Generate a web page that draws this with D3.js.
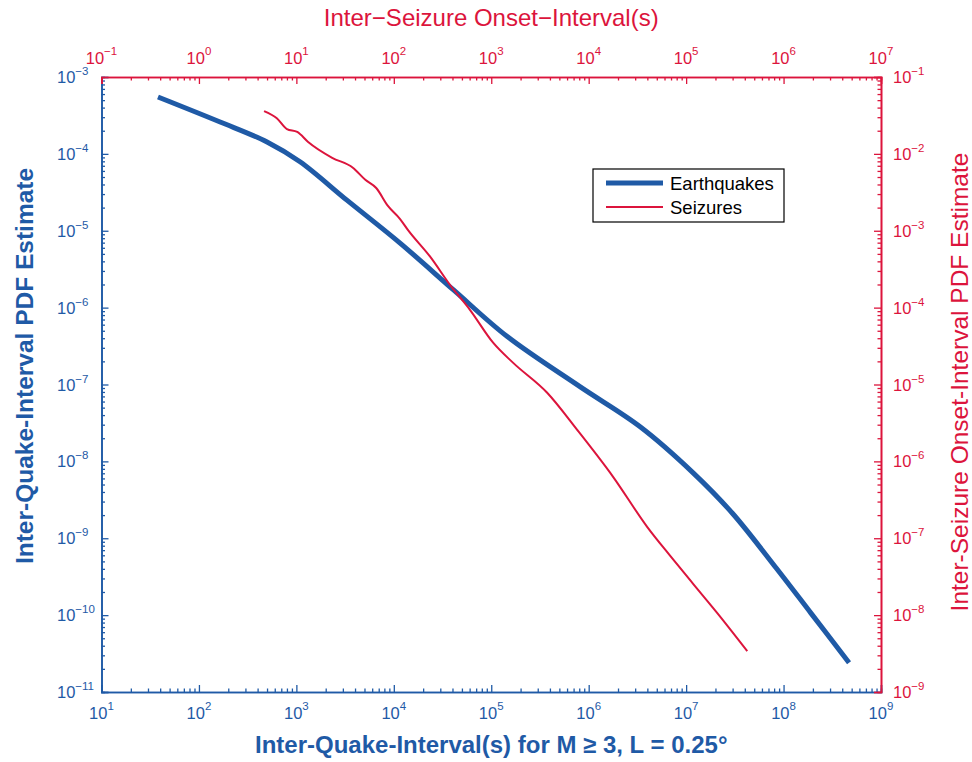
<!DOCTYPE html>
<html>
<head>
<meta charset="utf-8">
<script src="https://cdn.jsdelivr.net/npm/d3@7"></script>
<style>
  body { margin: 0; background: #fff; }
  svg { display: block; font-family: "Liberation Sans", Arial, sans-serif; }
</style>
</head>
<body>
<svg id="chart"></svg>
<script>
const w = 972;
const h = 762;

const blue = "#1f5aa6";
const red = "#dc143c";

// earthquakes: inter-quake interval (s) vs PDF estimate (bottom / left axes)
const quakeInterval = [38, 165, 500, 1.09e3, 3.3e3, 1.16e4, 4.1e4, 1.46e5, 8.2e5, 3.4e6, 1.18e7, 3.0e7, 8.4e7, 1.9e8, 4.7e8];
const quakePdf = [5.5e-4, 2.6e-4, 1.43e-4, 7.9e-5, 2.5e-5, 6.9e-6, 1.7e-6, 4.2e-7, 9.3e-8, 2.8e-8, 7.1e-9, 2.1e-9, 4.1e-10, 1.07e-10, 2.4e-11];

// seizures: inter-seizure onset interval (s) vs PDF estimate (top / right axes)
const seizureInterval = [4.66, 6.3, 8.0, 10.2, 13.2, 23.3, 38, 51, 66, 87, 116, 140, 236, 378, 607, 1045, 1680, 3750, 7620, 1.78e4, 3.98e4, 6.87e4, 1.18e5, 2.08e5, 4.24e5];
const seizurePdf = [3.6e-2, 2.9e-2, 2.1e-2, 1.93e-2, 1.43e-2, 8.9e-3, 6.6e-3, 4.6e-3, 3.6e-3, 2.1e-3, 1.42e-3, 1.02e-3, 4.6e-4, 1.97e-4, 9.3e-5, 3.5e-5, 1.91e-5, 7.8e-6, 2.57e-6, 6.3e-7, 1.41e-7, 5.9e-8, 2.55e-8, 1.07e-8, 3.4e-9];

const bottomExps = [1, 2, 3, 4, 5, 6, 7, 8, 9];
const topExps = [-1, 0, 1, 2, 3, 4, 5, 6, 7];
const leftExps = [-3, -4, -5, -6, -7, -8, -9, -10, -11];
const rightExps = [-1, -2, -3, -4, -5, -6, -7, -8, -9];

const seriesNames = ["Earthquakes", "Seizures"];

const padLeft = 101.5, padRight = 881, padTop = 77, padBottom = 692;

const svg = d3.select("#chart")
  .attr("width", w)
  .attr("height", h)
  .attr("viewBox", [0, 0, w, h]);

const x = d3.scaleLog().domain([1e1, 1e9]).range([padLeft, padRight]);
const y = d3.scaleLog().domain([1e-11, 1e-3]).range([padBottom, padTop]);
const x2 = d3.scaleLog().domain([1e-1, 1e7]).range([padLeft, padRight]);
const y2 = d3.scaleLog().domain([1e-9, 1e-1]).range([padBottom, padTop]);

function minorTicks(exps) {
  const out = [];
  const lo = d3.min(exps), hi = d3.max(exps);
  for (let e = lo; e < hi; e++) {
    for (let m = 2; m <= 9; m++) out.push(m * Math.pow(10, e));
  }
  return out;
}

const fmtExp = e => (e < 0 ? "\u2212" + (-e) : "" + e);

function drawAxis(axisFn, scale, exps, transform, color) {
  const major = exps.map(e => Math.pow(10, e));
  const g = svg.append("g").attr("transform", transform);
  g.call(axisFn(scale).tickValues(minorTicks(exps)).tickSize(-3.5).tickFormat(""));
  g.append("g").call(axisFn(scale).tickValues(major).tickSize(-7).tickFormat(""));
  g.selectAll("path, line").attr("stroke", color).attr("stroke-width", 1.3);
  g.selectAll(".domain").attr("stroke-width", 1.6);
  return g;
}

drawAxis(d3.axisBottom, x, bottomExps, `translate(0,${padBottom})`, blue);
drawAxis(d3.axisLeft, y, leftExps, `translate(${padLeft},0)`, blue);
drawAxis(d3.axisTop, x2, topExps, `translate(0,${padTop})`, red);
drawAxis(d3.axisRight, y2, rightExps, `translate(${padRight},0)`, red);

function powLabel(g, xp, yp, e, anchor, supDy, color) {
  const t = g.append("text")
    .attr("x", xp).attr("y", yp)
    .attr("text-anchor", anchor)
    .attr("fill", color)
    .attr("font-size", 16.5);
  t.append("tspan").text("10");
  t.append("tspan").attr("dy", supDy).attr("font-size", 11.5).text(fmtExp(e));
}

const labels = svg.append("g");
bottomExps.forEach(e => powLabel(labels, x(Math.pow(10, e)), 719, e, "middle", -9, blue));
topExps.forEach(e => powLabel(labels, x2(Math.pow(10, e)), 64, e, "middle", -9, red));
leftExps.forEach(e => powLabel(labels, 57, y(Math.pow(10, e)) + 6, e, "start", -8, blue));
rightExps.forEach(e => powLabel(labels, 893, y2(Math.pow(10, e)) + 6, e, "start", -8, red));

// curves
const quakeData = quakeInterval.map((v, i) => [v, quakePdf[i]]);
const seizureData = seizureInterval.map((v, i) => [v, seizurePdf[i]]);

svg.append("path")
  .datum(quakeData)
  .attr("fill", "none")
  .attr("stroke", blue)
  .attr("stroke-width", 5)
  .attr("d", d3.line().x(d => x(d[0])).y(d => y(d[1])).curve(d3.curveCatmullRom.alpha(0.5)));

svg.append("path")
  .datum(seizureData)
  .attr("fill", "none")
  .attr("stroke", red)
  .attr("stroke-width", 2)
  .attr("stroke-linejoin", "round")
  .attr("d", d3.line().x(d => x2(d[0])).y(d => y2(d[1])).curve(d3.curveMonotoneX));

// axis titles
svg.append("text")
  .attr("x", (padLeft + padRight) / 2).attr("y", 26)
  .attr("text-anchor", "middle")
  .attr("fill", red)
  .attr("font-size", 24)
  .text("Inter\u2212Seizure Onset\u2212Interval(s)");

svg.append("text")
  .attr("x", (padLeft + padRight) / 2).attr("y", 753)
  .attr("text-anchor", "middle")
  .attr("fill", blue)
  .attr("font-size", 24)
  .attr("font-weight", "bold")
  .text("Inter-Quake-Interval(s) for M \u2265 3, L = 0.25\u00b0");

svg.append("text")
  .attr("transform", "translate(33,366) rotate(-90)")
  .attr("text-anchor", "middle")
  .attr("fill", blue)
  .attr("font-size", 24.5)
  .attr("font-weight", "bold")
  .text("Inter-Quake-Interval PDF Estimate");

svg.append("text")
  .attr("transform", "translate(968,382) rotate(-90)")
  .attr("text-anchor", "middle")
  .attr("fill", red)
  .attr("font-size", 24.5)
  .text("Inter-Seizure Onset-Interval PDF Estimate");

// legend
const legend = svg.append("g").attr("transform", "translate(593,169)");
legend.append("rect")
  .attr("width", 191).attr("height", 53)
  .attr("fill", "#fff")
  .attr("stroke", "#000")
  .attr("stroke-width", 1.2);

const legendColors = [blue, red];
const legendWidths = [5, 2];
seriesNames.forEach((name, i) => {
  const ly = 14 + i * 24;
  legend.append("line")
    .attr("x1", 13).attr("x2", 70)
    .attr("y1", ly).attr("y2", ly)
    .attr("stroke", legendColors[i])
    .attr("stroke-width", legendWidths[i]);
  legend.append("text")
    .attr("x", 77).attr("y", ly + 6.5)
    .attr("font-size", 18.5)
    .attr("fill", "#000")
    .text(name);
});
</script>
</body>
</html>
